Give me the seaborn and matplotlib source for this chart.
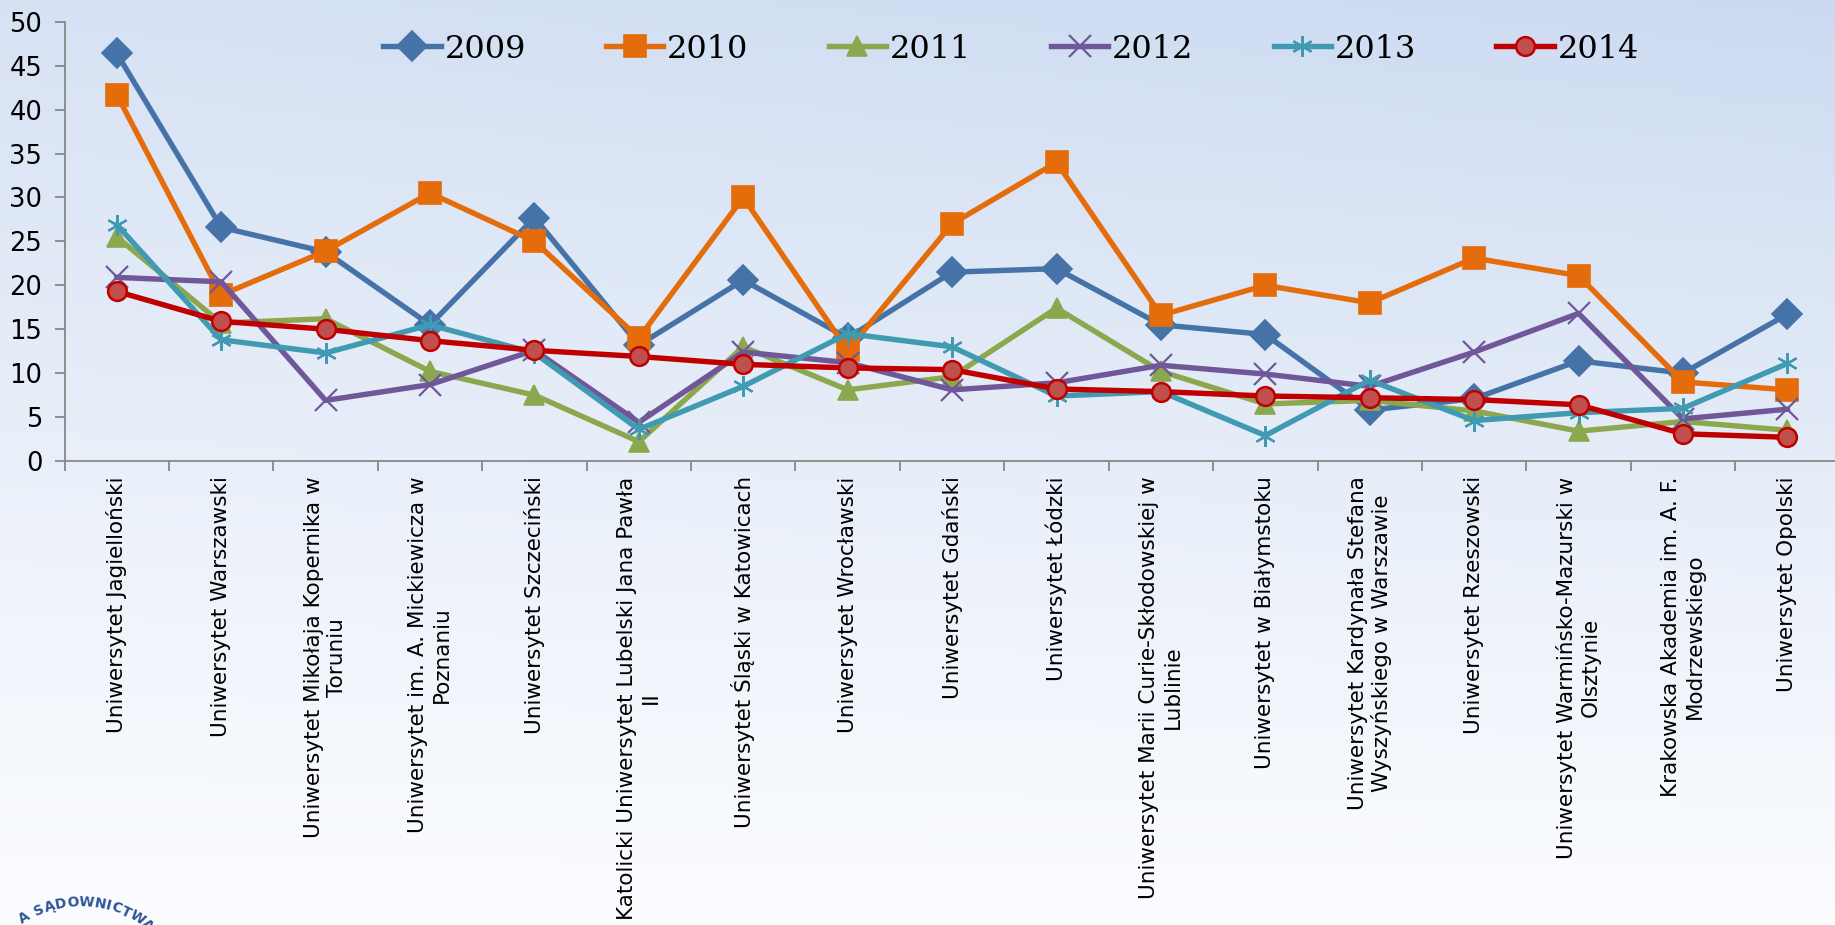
import numpy as np
import pandas as pd
import matplotlib
matplotlib.use("Agg")
import matplotlib.pyplot as plt
import seaborn as sns

uczelnie = [
    "Uniwersytet Jagielloński",
    "Uniwersytet Warszawski",
    "Uniwersytet Mikołaja Kopernika w\nToruniu",
    "Uniwersytet im. A. Mickiewicza w\nPoznaniu",
    "Uniwersytet Szczeciński",
    "Katolicki Uniwersytet Lubelski Jana Pawła\nII",
    "Uniwersytet Śląski w Katowicach",
    "Uniwersytet Wrocławski",
    "Uniwersytet Gdański",
    "Uniwersytet Łódzki",
    "Uniwersytet Marii Curie-Skłodowskiej w\nLublinie",
    "Uniwersytet w Białymstoku",
    "Uniwersytet Kardynała Stefana\nWyszyńskiego w Warszawie",
    "Uniwersytet Rzeszowski",
    "Uniwersytet Warmińsko-Mazurski w\nOlsztynie",
    "Krakowska Akademia im. A. F.\nModrzewskiego",
    "Uniwersytet Opolski",
]
lata = ["2009", "2010", "2011", "2012", "2013", "2014"]

v2009 = [46.4, 26.6, 23.8, 15.5, 27.7, 13.2, 20.6, 14.0, 21.5, 21.9, 15.5, 14.4, 5.8, 7.1, 11.4, 10.0, 16.7]
v2010 = [41.7, 18.9, 23.9, 30.5, 25.0, 14.0, 30.0, 12.6, 27.0, 34.0, 16.6, 20.0, 18.0, 23.1, 21.1, 9.0, 8.1]
v2011 = [25.5, 15.7, 16.2, 10.2, 7.5, 2.2, 13.0, 8.1, 9.6, 17.4, 10.2, 6.5, 6.9, 5.7, 3.4, 4.5, 3.5]
v2012 = [20.9, 20.4, 6.9, 8.7, 12.6, 4.4, 12.4, 11.2, 8.1, 8.9, 10.9, 9.9, 8.5, 12.4, 16.8, 4.8, 5.9]
v2013 = [26.9, 13.8, 12.3, 15.5, 12.3, 3.6, 8.5, 14.5, 13.0, 7.4, 7.9, 2.9, 9.2, 4.6, 5.5, 6.0, 11.1]
v2014 = [19.3, 15.9, 15.0, 13.7, 12.6, 11.9, 11.0, 10.6, 10.4, 8.2, 7.9, 7.4, 7.2, 7.0, 6.4, 3.1, 2.7]
wartosci = [v2009, v2010, v2011, v2012, v2013, v2014]

kolory = ["#4572A7", "#E46C0A", "#8BA84F", "#70579A", "#3F9AB2", "#C00000"]
markery = ["D", "s", "^", "x", (6, 2, 0), "o"]
wypelnienie = ["#4572A7", "#E46C0A", "#8BA84F", "#70579A", "#3F9AB2", "#C0504D"]
rozmiary = [15, 15.5, 15, 16, 15, 13.5]

df = pd.DataFrame({
    "poz": np.tile(np.arange(len(uczelnie)), len(lata)),
    "wartosc": np.concatenate(wartosci),
    "rok": np.repeat(lata, len(uczelnie)),
})

fig = plt.figure(figsize=(18.35, 9.25), dpi=100)

# gradient background
bg = fig.add_axes([0, 0, 1, 1], zorder=-10)
yy, xx = np.mgrid[0:1:200j, 0:1:200j]
m = np.clip((1 - yy) ** 1.1 * (0.78 + 0.22 * xx), 0, 1)[..., None]
B = np.array([0.80, 0.855, 0.945])
W = np.array([0.985, 0.99, 0.998])
bg.imshow(m * B + (1 - m) * W, aspect="auto", extent=[0, 1, 0, 1], origin="upper")
bg.axis("off")

ax = fig.add_axes([0.0352, 0.5016, 0.9673, 0.4749])
ax.patch.set_alpha(0)

sns.lineplot(data=df, x="poz", y="wartosc", hue="rok", hue_order=lata,
             palette=dict(zip(lata, kolory)), sort=False, legend=False,
             linewidth=3.9, ax=ax)

for line, k, mk, fc, ms in zip(ax.lines, kolory, markery, wypelnienie, rozmiary):
    line.set_marker(mk)
    line.set_markersize(ms)
    line.set_markerfacecolor(fc)
    line.set_markeredgecolor(k)
    line.set_markeredgewidth(1.6 if mk in ("x", (6, 2, 0)) else 1.2)
    line.set_clip_on(False)
ax.lines[-1].set_markeredgewidth(1.8)

ax.set_xlim(-0.5, len(uczelnie) - 0.5)
ax.set_ylim(0, 50)
ax.set_yticks(np.arange(0, 51, 5))
ax.set_xticks(np.arange(len(uczelnie)))
ax.set_xticklabels(uczelnie, rotation=90, ha="center", va="top",
                   multialignment="center", fontsize=15.5, family="DejaVu Sans")
ax.set_xticks(np.arange(-0.5, len(uczelnie)), minor=True)
ax.tick_params(axis="x", which="major", length=0, pad=11)
ax.tick_params(axis="x", which="minor", length=7, width=1.3, color="#878787", direction="out")
ax.tick_params(axis="y", length=7, width=1.3, color="#878787", pad=9)
for t in ax.get_yticklabels():
    t.set_family(["Liberation Sans Narrow", "DejaVu Sans"])
    t.set_fontsize(18.5)
ax.set_xlabel("")
ax.set_ylabel("")
for s in ["top", "right"]:
    ax.spines[s].set_visible(False)
for s in ["left", "bottom"]:
    ax.spines[s].set_color("#878787")
    ax.spines[s].set_linewidth(1.3)

leg = ax.legend(ax.lines, lata, loc="center", bbox_to_anchor=(0.551, 0.947),
                bbox_transform=fig.transFigure, ncol=6, frameon=False,
                prop={"family": "DejaVu Serif", "size": 23},
                handlelength=1.8, handletextpad=0.12, columnspacing=2.5)

# partial logo text in the corner
cx, cy, r = 81, 1008, 106
napis = "A SĄDOWNICTWA"
szer = {" ": 0.5, "I": 0.55, "W": 1.35, "O": 1.15, "D": 1.1, "N": 1.05,
        "C": 1.0, "T": 0.95, "A": 1.05, "S": 0.95, "Ą": 1.05}
krok = 5.9
kat = -32.0
for i, ch in enumerate(napis):
    if i > 0:
        kat += krok * (szer[napis[i - 1]] + szer[ch]) / 2
    th = np.radians(kat)
    px = cx + r * np.sin(th)
    py = cy - r * np.cos(th)
    fig.text(px / 1835, 1 - py / 925, ch, rotation=-kat,
             ha="center", va="center", fontsize=10, fontweight="bold",
             color="#2F5496", family="DejaVu Sans")

fig.savefig("out.png", dpi=100)
